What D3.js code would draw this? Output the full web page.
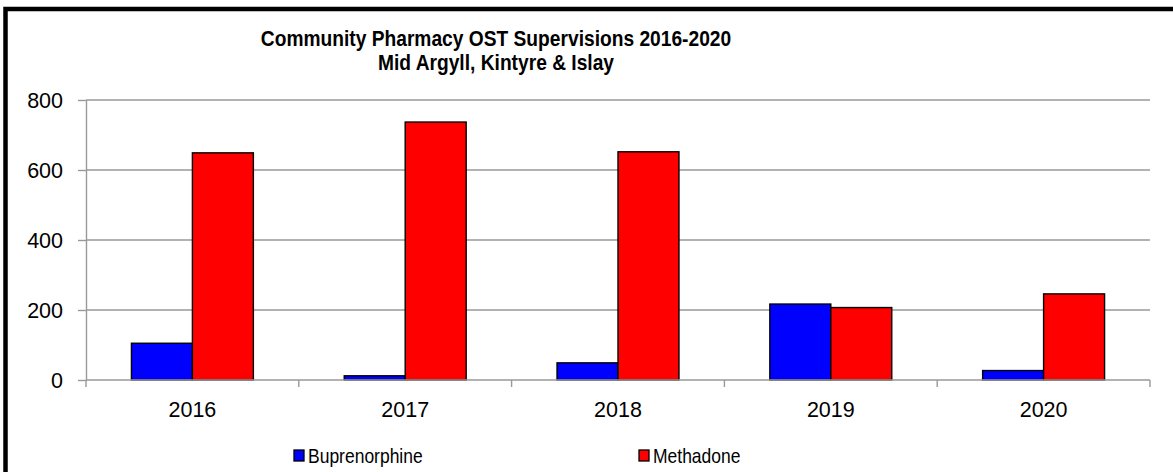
<!DOCTYPE html>
<html>
<head>
<meta charset="utf-8">
<script src="https://cdn.jsdelivr.net/npm/d3@7"></script>
<style>
  body { margin: 0; background: #fff; }
  svg { display: block; font-family: "Liberation Sans", Arial, sans-serif; }
  .grid line { stroke: #999; stroke-width: 1.4; }
  .axis { font-family: "Liberation Sans", Arial, sans-serif; }
  .axis path, .axis line { stroke: #999; stroke-width: 1.4; }
  .axis text { fill: #000; font-size: 21.5px; }
  .bar { stroke: #000; stroke-width: 1.4; }
</style>
</head>
<body>
<svg width="1173" height="472"></svg>
<script>
const years = ["2016", "2017", "2018", "2019", "2020"];
const seriesNames = ["Buprenorphine", "Methadone"];
const seriesColors = ["#0000ff", "#ff0000"];
const buprenorphine = [105, 12, 49, 217, 27];
const methadone = [649, 737, 652, 207, 246];
const yTicks = [0, 200, 400, 600, 800];

const svg = d3.select("svg"),
  width = +svg.attr("width"),
  height = +svg.attr("height");

const plot = { left: 86, right: 1150, top: 100, bottom: 380 };

// outer chart border (cut off at right and bottom like the original)
svg
  .append("rect")
  .attr("x", 5.5)
  .attr("y", 9)
  .attr("width", width + 100)
  .attr("height", height + 100)
  .attr("fill", "none")
  .attr("stroke", "#000")
  .attr("stroke-width", 4.5);

const x = d3
  .scaleBand()
  .domain(years)
  .range([plot.left, plot.right])
  .paddingInner(0.427)
  .paddingOuter(0.2135);

const xSeries = d3.scaleBand().domain(seriesNames).range([0, x.bandwidth()]);

const y = d3.scaleLinear().domain([0, 800]).range([plot.bottom, plot.top]);

// gridlines
svg
  .append("g")
  .attr("class", "grid")
  .selectAll("line")
  .data(yTicks.filter((d) => d > 0))
  .enter()
  .append("line")
  .attr("x1", plot.left)
  .attr("x2", plot.right)
  .attr("y1", (d) => y(d))
  .attr("y2", (d) => y(d));

// bars
const rows = years.map((yr, i) => ({
  year: yr,
  values: [buprenorphine[i], methadone[i]],
}));

const group = svg
  .append("g")
  .selectAll("g")
  .data(rows)
  .enter()
  .append("g")
  .attr("transform", (d) => `translate(${x(d.year)},0)`);

group
  .selectAll("rect")
  .data((d) => d.values.map((v, k) => ({ name: seriesNames[k], value: v, color: seriesColors[k] })))
  .enter()
  .append("rect")
  .attr("class", "bar")
  .attr("x", (d) => xSeries(d.name))
  .attr("width", xSeries.bandwidth())
  .attr("y", (d) => y(d.value))
  .attr("height", (d) => y(0) - y(d.value))
  .attr("fill", (d) => d.color);

// y axis
const yAxis = svg
  .append("g")
  .attr("class", "axis")
  .attr("transform", `translate(${plot.left},0)`)
  .call(d3.axisLeft(y).tickValues(yTicks).tickSize(8).tickSizeOuter(0).tickPadding(15));
yAxis.selectAll("text").attr("dy", "0.36em");

// x axis with ticks at category boundaries
const xAxis = svg
  .append("g")
  .attr("class", "axis")
  .attr("transform", `translate(0,${plot.bottom})`);
xAxis
  .append("line")
  .attr("x1", plot.left)
  .attr("x2", plot.right)
  .attr("y1", 0)
  .attr("y2", 0);
const step = x.step();
xAxis
  .selectAll("line.tick")
  .data(d3.range(years.length + 1))
  .enter()
  .append("line")
  .attr("class", "tick")
  .attr("x1", (i) => plot.left + i * step)
  .attr("x2", (i) => plot.left + i * step)
  .attr("y1", 0)
  .attr("y2", 7);
xAxis
  .selectAll("text")
  .data(years)
  .enter()
  .append("text")
  .attr("x", (d) => x(d) + x.bandwidth() / 2)
  .attr("y", 37)
  .attr("text-anchor", "middle")
  .text((d) => d);

// title
const title = svg.append("g").attr("font-weight", "bold").attr("text-anchor", "middle");
title
  .append("text")
  .attr("transform", "translate(496,46) scale(1,1.12)")
  .attr("font-size", "19.2px")
  .text("Community Pharmacy OST Supervisions 2016-2020");
title
  .append("text")
  .attr("transform", "translate(496,70) scale(1,1.12)")
  .attr("font-size", "19.2px")
  .text("Mid Argyll, Kintyre & Islay");

// legend
const legendX = [294, 639];
const legend = svg
  .append("g")
  .selectAll("g")
  .data(seriesNames)
  .enter()
  .append("g")
  .attr("transform", (d, i) => `translate(${legendX[i]},450)`);
legend
  .append("rect")
  .attr("width", 10)
  .attr("height", 11)
  .attr("fill", (d, i) => seriesColors[i])
  .attr("stroke", "#000")
  .attr("stroke-width", 1.3);
legend
  .append("text")
  .attr("transform", "translate(14,13) scale(1,1.12)")
  .attr("font-size", "17.5px")
  .text((d) => d);
</script>
</body>
</html>
